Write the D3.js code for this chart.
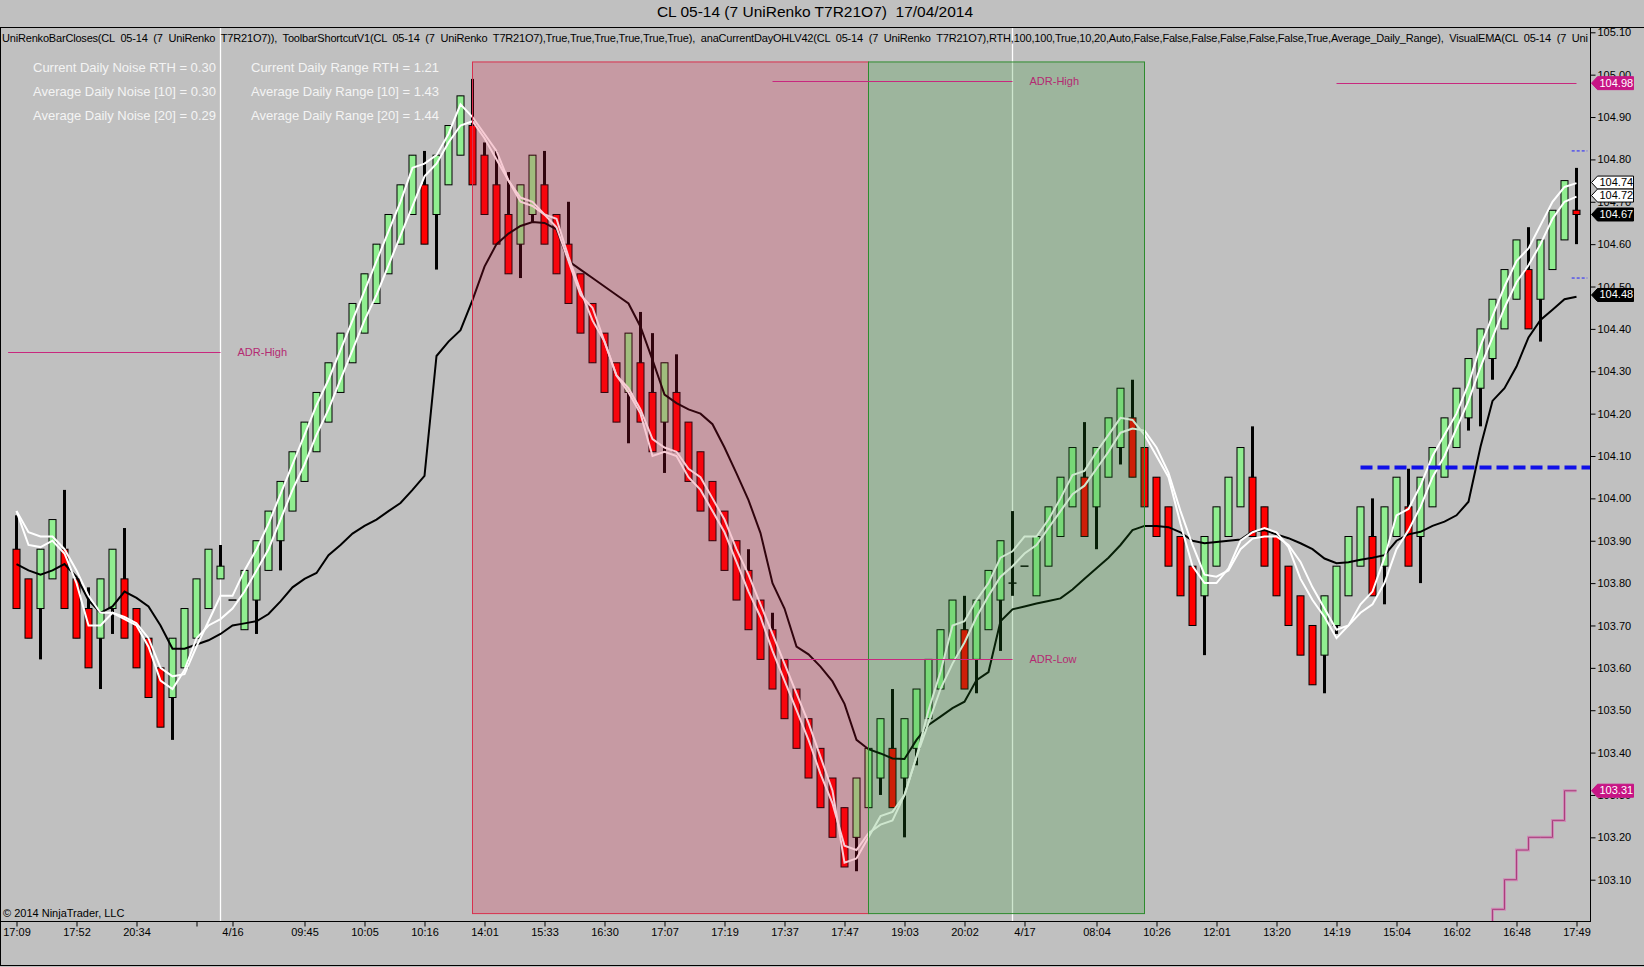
<!DOCTYPE html>
<html>
<head>
<meta charset="utf-8">
<script src="https://cdn.jsdelivr.net/npm/d3@7"></script>
<style>
  body { margin: 0; background: #c0c0c0; }
  svg { display: block; font-family: "Liberation Sans", Arial, sans-serif; }
</style>
</head>
<body>
<svg id="chart" width="1644" height="967"></svg>
<script>
// CL 05-14 UniRenko T7R21O7 - bar data, one value per bar
const opens = [
  103.88,103.81,103.74,103.81,103.88,103.81,103.74,103.67,103.74,103.81,
  103.74,103.67,103.60,103.53,103.60,103.67,103.74,103.81,103.76,103.69,
  103.76,103.83,103.90,103.97,104.04,104.11,104.18,104.25,104.32,104.39,
  104.46,104.53,104.60,104.67,104.74,104.67,104.74,104.81,104.88,104.81,
  104.74,104.67,104.60,104.67,104.74,104.67,104.60,104.53,104.46,104.39,
  104.32,104.25,104.32,104.25,104.18,104.25,104.18,104.11,104.04,103.97,
  103.90,103.83,103.76,103.69,103.62,103.55,103.48,103.41,103.34,103.27,
  103.20,103.27,103.34,103.41,103.34,103.41,103.48,103.55,103.62,103.69,
  103.62,103.69,103.76,103.80,103.84,103.77,103.84,103.91,103.98,104.05,
  103.98,104.05,104.12,104.19,104.12,104.05,103.98,103.91,103.84,103.77,
  103.84,103.91,103.98,104.05,103.98,103.91,103.84,103.77,103.70,103.63,
  103.70,103.77,103.84,103.91,103.84,103.91,103.98,103.91,103.98,104.05,
  104.12,104.19,104.26,104.33,104.40,104.47,104.54,104.47,104.54,104.61,
  104.68
];
const closes = [
  103.74,103.67,103.88,103.95,103.74,103.67,103.60,103.81,103.88,103.67,
  103.60,103.53,103.46,103.67,103.74,103.81,103.88,103.84,103.76,103.83,
  103.90,103.97,104.04,104.11,104.18,104.25,104.32,104.39,104.46,104.53,
  104.60,104.67,104.74,104.81,104.60,104.81,104.88,104.95,104.74,104.67,
  104.60,104.53,104.74,104.81,104.60,104.53,104.46,104.39,104.32,104.25,
  104.18,104.39,104.18,104.11,104.32,104.11,104.04,103.97,103.90,103.83,
  103.76,103.69,103.62,103.55,103.48,103.41,103.34,103.27,103.20,103.13,
  103.34,103.41,103.48,103.27,103.48,103.55,103.62,103.69,103.76,103.55,
  103.76,103.83,103.90,103.80,103.84,103.91,103.98,104.05,104.12,103.91,
  104.12,104.19,104.26,104.05,103.98,103.91,103.84,103.77,103.70,103.91,
  103.98,104.05,104.12,103.91,103.84,103.77,103.70,103.63,103.56,103.77,
  103.84,103.91,103.98,103.77,103.98,104.05,103.84,104.05,104.12,104.19,
  104.26,104.33,104.40,104.47,104.54,104.61,104.40,104.61,104.68,104.75,
  104.67
];
const highs = [
  103.96,103.81,103.88,103.95,104.02,103.81,103.79,103.81,103.88,103.93,
  103.74,103.67,103.60,103.67,103.74,103.81,103.88,103.89,103.76,103.83,
  103.90,103.97,104.04,104.11,104.18,104.25,104.32,104.39,104.46,104.53,
  104.60,104.67,104.74,104.81,104.82,104.81,104.88,104.95,104.99,104.84,
  104.82,104.77,104.74,104.81,104.82,104.67,104.70,104.53,104.46,104.39,
  104.32,104.39,104.44,104.39,104.32,104.34,104.18,104.11,104.04,103.97,
  103.90,103.88,103.76,103.73,103.62,103.55,103.48,103.41,103.34,103.27,
  103.34,103.41,103.48,103.55,103.48,103.55,103.62,103.69,103.76,103.77,
  103.76,103.83,103.90,103.97,103.84,103.91,103.98,104.05,104.12,104.18,
  104.12,104.19,104.26,104.28,104.12,104.05,103.98,103.91,103.84,103.91,
  103.98,104.05,104.12,104.17,103.98,103.91,103.84,103.77,103.70,103.77,
  103.84,103.91,103.98,104.00,103.98,104.05,104.07,104.05,104.12,104.19,
  104.26,104.33,104.40,104.47,104.54,104.61,104.64,104.61,104.68,104.75,
  104.78
];
const lows = [
  103.74,103.67,103.62,103.81,103.74,103.67,103.60,103.55,103.68,103.67,
  103.60,103.53,103.46,103.43,103.60,103.67,103.74,103.81,103.76,103.69,
  103.68,103.83,103.83,103.97,104.04,104.11,104.18,104.25,104.32,104.39,
  104.46,104.53,104.60,104.67,104.60,104.54,104.74,104.81,104.74,104.67,
  104.60,104.53,104.52,104.65,104.60,104.53,104.46,104.39,104.32,104.25,
  104.18,104.13,104.18,104.11,104.06,104.11,104.04,103.97,103.90,103.83,
  103.76,103.69,103.62,103.55,103.48,103.41,103.34,103.27,103.20,103.13,
  103.12,103.27,103.30,103.27,103.20,103.37,103.48,103.55,103.62,103.55,
  103.54,103.69,103.64,103.77,103.84,103.77,103.84,103.91,103.98,103.91,
  103.88,104.05,104.08,104.05,103.98,103.91,103.84,103.77,103.70,103.63,
  103.84,103.91,103.98,103.91,103.84,103.77,103.70,103.63,103.56,103.54,
  103.68,103.77,103.84,103.77,103.75,103.91,103.84,103.80,103.98,104.05,
  104.12,104.16,104.17,104.28,104.40,104.47,104.40,104.37,104.54,104.61,
  104.60
];

// indicator lines (two white EMAs, one black), read per bar
const emaFast = [
  103.97,103.92,103.91,103.91,103.88,103.83,103.77,103.73,103.73,103.72,
  103.705,103.67,103.60,103.58,103.585,103.65,103.71,103.77,103.77,103.83,
  103.88,103.94,104.01,104.08,104.15,104.22,104.28,104.35,104.42,104.49,
  104.56,104.63,104.70,104.78,104.79,104.81,104.86,104.93,104.90,104.86,
  104.82,104.75,104.70,104.69,104.67,104.66,104.57,104.49,104.42,104.37,
  104.29,104.26,104.21,104.14,104.12,104.11,104.07,104.05,104.00,103.95,
  103.88,103.82,103.75,103.68,103.61,103.54,103.47,103.39,103.31,103.14,
  103.15,103.20,103.25,103.26,103.30,103.39,103.50,103.59,103.70,103.71,
  103.76,103.80,103.86,103.875,103.91,103.91,103.95,104.00,104.055,104.065,
  104.11,104.15,104.19,104.185,104.15,104.10,104.05,103.94,103.84,103.80,
  103.80,103.835,103.90,103.92,103.93,103.92,103.885,103.81,103.76,103.72,
  103.67,103.70,103.75,103.78,103.86,103.96,103.975,104.03,104.10,104.15,
  104.20,104.27,104.36,104.43,104.50,104.56,104.59,104.645,104.70,104.735,
  104.744
];
const emaMid = [
  103.97,103.89,103.885,103.90,103.87,103.80,103.70,103.70,103.73,103.715,
  103.70,103.65,103.57,103.55,103.595,103.67,103.70,103.715,103.74,103.78,
  103.83,103.88,103.95,104.02,104.08,104.15,104.21,104.28,104.35,104.42,
  104.48,104.55,104.62,104.69,104.76,104.79,104.84,104.88,104.89,104.85,
  104.80,104.75,104.71,104.70,104.67,104.64,104.56,104.48,104.45,104.37,
  104.29,104.25,104.20,104.10,104.11,104.10,104.05,104.02,103.97,103.92,
  103.85,103.78,103.72,103.64,103.57,103.50,103.43,103.35,103.28,103.18,
  103.17,103.21,103.23,103.24,103.30,103.39,103.47,103.55,103.61,103.66,
  103.72,103.77,103.815,103.84,103.87,103.89,103.93,103.97,104.01,104.03,
  104.07,104.11,104.155,104.165,104.16,104.12,104.06,103.97,103.89,103.82,
  103.815,103.83,103.88,103.905,103.91,103.91,103.89,103.85,103.79,103.74,
  103.69,103.70,103.73,103.75,103.80,103.88,103.925,103.98,104.05,104.10,
  104.165,104.23,104.31,104.38,104.45,104.51,104.55,104.60,104.66,104.70,
  104.712
];
const emaSlow = [
  103.845,103.83,103.82,103.83,103.845,103.815,103.76,103.73,103.745,103.78,
  103.765,103.745,103.70,103.645,103.645,103.655,103.665,103.68,103.70,103.705,
  103.71,103.727,103.757,103.79,103.81,103.824,103.866,103.89,103.917,103.935,
  103.95,103.97,103.989,104.02,104.053,104.336,104.37,104.397,104.468,104.547,
  104.60,104.625,104.643,104.652,104.65,104.635,104.56,104.54,104.52,104.50,
  104.48,104.46,104.405,104.327,104.245,104.225,104.21,104.20,104.175,104.12,
  104.059,103.996,103.918,103.80,103.74,103.65,103.632,103.603,103.568,103.515,
  103.43,103.408,103.398,103.386,103.385,103.43,103.465,103.485,103.505,103.52,
  103.571,103.59,103.71,103.738,103.745,103.752,103.758,103.764,103.785,103.81,
  103.835,103.86,103.89,103.925,103.935,103.935,103.932,103.92,103.90,103.894,
  103.897,103.90,103.903,103.922,103.925,103.915,103.906,103.894,103.88,103.858,
  103.847,103.849,103.855,103.86,103.866,103.90,103.915,103.921,103.935,103.945,
  103.96,103.992,104.122,104.23,104.26,104.311,104.38,104.421,104.445,104.47,
  104.476
];

// stepped indicator at the bottom right
const stairIdx  = [122, 123, 124, 125, 126, 127, 128, 129, 130];
const stairVals = [102.90, 103.03, 103.10, 103.17, 103.20, 103.20, 103.24, 103.31, 103.31];

// drawings
const sessionBreaks = [17, 83];
const zoneFrom = [38, 71];
const zoneTo   = [71, 94];
const zoneHigh = [105.03, 105.03];
const zoneLow  = [103.02, 103.02];
const adrLabels = ["ADR-High", "ADR-High", "ADR-Low", ""];
const adrPrice  = [104.346, 104.985, 103.62, 104.98];
const adrFrom   = [-0.7, 63, 64.3, 110];
const adrTo     = [17, 83, 83, 130];
const pivotPrice = 104.073, pivotFrom = 112;
const smallDashPrice = [104.82, 104.52];

// axes
const xTickIdx = [0, 5, 10, 15, 18, 24, 29, 34, 39, 44, 49, 54, 59, 64, 69, 74, 79, 84, 90, 95, 100, 105, 110, 115, 120, 125, 130];
const xTickLabels = ["17:09","17:52","20:34","","4/16","09:45","10:05","10:16","14:01","15:33","16:30","17:07","17:19","17:37",
  "17:47","19:03","20:02","4/17","08:04","10:26","12:01","13:20","14:19","15:04","16:02","16:48","17:49"];
const yTicks = [103.10,103.20,103.30,103.40,103.50,103.60,103.70,103.80,103.90,104.00,104.10,
  104.20,104.30,104.40,104.50,104.60,104.70,104.80,104.90,105.00,105.10];

// right-axis price markers
const markerVals = [104.98, 104.74, 104.72, 104.67, 104.48, 103.31];
const markerKind = ["magenta", "white", "white", "black", "black", "magenta"];

// texts
const titleText = "CL 05-14 (7 UniRenko T7R21O7)  17/04/2014";
const headerText = "UniRenkoBarCloses(CL  05-14  (7  UniRenko  T7R21O7)),  ToolbarShortcutV1(CL  05-14  (7  UniRenko  T7R21O7),True,True,True,True,True,True),  anaCurrentDayOHLV42(CL  05-14  (7  UniRenko  T7R21O7),RTH,100,100,True,10,20,Auto,False,False,False,False,False,False,True,Average_Daily_Range),  VisualEMA(CL  05-14  (7  Uni";
const infoLeft  = ["Current Daily Noise RTH = 0.30", "Average Daily Noise [10] = 0.30", "Average Daily Noise [20] = 0.29"];
const infoRight = ["Current Daily Range RTH = 1.21", "Average Daily Range [10] = 1.43", "Average Daily Range [20] = 1.44"];

(function() {
  const svg = d3.select("#chart");
  const W = 1644, H = 967;
  const plot = { top: 27, right: 1590, bottom: 921 };
  const font = '"Liberation Sans", Arial, sans-serif';

  const x = d3.scaleLinear().domain([0, 130]).range([16.5, 1576.5]);
  const y = d3.scaleLinear().domain([103.10, 105.10]).range([879.7, 32.3]);

  svg.append("rect").attr("width", W).attr("height", H).attr("fill", "#c0c0c0");

  svg.append("defs").append("clipPath").attr("id", "plotclip")
    .append("rect").attr("x", 0).attr("y", plot.top)
    .attr("width", plot.right).attr("height", plot.bottom - plot.top);

  const g = svg.append("g").attr("clip-path", "url(#plotclip)");

  // session break lines
  g.selectAll("line.session").data(sessionBreaks).join("line")
    .attr("x1", d => x(d)).attr("x2", d => x(d))
    .attr("y1", plot.top).attr("y2", plot.bottom)
    .attr("stroke", "#ffffff").attr("stroke-width", 1.3);

  const bars = opens.map((o, i) => ({ i, o, c: closes[i], h: highs[i], l: lows[i] }));

  // wicks
  g.selectAll("line.wick").data(bars.filter(d => d.h > d.l)).join("line")
    .attr("x1", d => x(d.i)).attr("x2", d => x(d.i))
    .attr("y1", d => y(d.h)).attr("y2", d => y(d.l))
    .attr("stroke", "#000").attr("stroke-width", 3);

  // bodies
  const body = bars.filter(d => d.o !== d.c);
  g.selectAll("rect.body").data(body).join("rect")
    .attr("x", d => x(d.i) - 3.5).attr("width", 7)
    .attr("y", d => y(Math.max(d.o, d.c)))
    .attr("height", d => Math.abs(y(d.o) - y(d.c)))
    .attr("fill", d => d.c > d.o ? "#90ee90" : "#ff0000")
    .attr("stroke", "#000").attr("stroke-width", 1);

  // doji bars drawn as a flat tick
  g.selectAll("line.doji").data(bars.filter(d => d.o === d.c)).join("line")
    .attr("x1", d => x(d.i) - 4).attr("x2", d => x(d.i) + 4)
    .attr("y1", d => y(d.o)).attr("y2", d => y(d.o))
    .attr("stroke", "#000").attr("stroke-width", 1.5);

  // indicator lines
  const line = d3.line().x((d, i) => x(i)).y(d => y(d));
  g.append("path").datum(emaSlow).attr("d", line)
    .attr("fill", "none").attr("stroke", "#000").attr("stroke-width", 2);
  [emaMid, emaFast].forEach(s => {
    g.append("path").datum(s).attr("d", line)
      .attr("fill", "none").attr("stroke", "#ffffff").attr("stroke-width", 2);
  });

  // shaded zones (drawn over the bars, like the original)
  const zoneFill = ["rgba(220,20,60,0.22)", "rgba(34,139,34,0.22)"];
  const zoneStroke = ["#d8304e", "#2e8b2e"];
  zoneFrom.forEach((f, k) => {
    g.append("rect")
      .attr("x", x(f)).attr("width", x(zoneTo[k]) - x(f))
      .attr("y", y(zoneHigh[k])).attr("height", y(zoneLow[k]) - y(zoneHigh[k]))
      .attr("fill", zoneFill[k]).attr("stroke", zoneStroke[k]).attr("stroke-width", 1);
  });

  // ADR lines + labels
  adrPrice.forEach((p, k) => {
    g.append("line")
      .attr("x1", x(adrFrom[k])).attr("x2", x(adrTo[k]))
      .attr("y1", Math.round(y(p)) + 0.5).attr("y2", Math.round(y(p)) + 0.5)
      .attr("stroke", "#c8287e").attr("stroke-width", 1);
    if (adrLabels[k]) {
      g.append("text")
        .attr("x", x(adrTo[k]) + 17).attr("y", y(p) + 1)
        .attr("dominant-baseline", "middle")
        .attr("font-size", 11).attr("fill", "#b42a72")
        .text(adrLabels[k]);
    }
  });

  // blue dashed level
  g.append("line")
    .attr("x1", x(pivotFrom)).attr("x2", plot.right)
    .attr("y1", y(pivotPrice)).attr("y2", y(pivotPrice))
    .attr("stroke", "#1010e8").attr("stroke-width", 4).attr("stroke-dasharray", "12,5");
  g.selectAll("line.sdash").data(smallDashPrice).join("line")
    .attr("x1", x(129.6)).attr("x2", x(130.9))
    .attr("y1", d => y(d)).attr("y2", d => y(d))
    .attr("stroke", "#2020ff").attr("stroke-width", 1).attr("stroke-dasharray", "3,2");

  // stepped line
  const stairLine = d3.line().curve(d3.curveStepAfter)
    .x((d, i) => x(stairIdx[i])).y(d => y(d));
  g.append("path").datum(stairVals).attr("d", stairLine)
    .attr("fill", "none").attr("stroke", "#d08ab6").attr("stroke-width", 3);
  g.append("path").datum(stairVals).attr("d", stairLine)
    .attr("fill", "none").attr("stroke", "#a8407c").attr("stroke-width", 1);

  // header texts
  svg.append("text")
    .attr("x", 815).attr("y", 13).attr("text-anchor", "middle")
    .attr("dominant-baseline", "middle").attr("font-size", 15.5).attr("fill", "#000")
    .style("white-space", "pre").text(titleText);

  g.append("text")
    .attr("x", 2).attr("y", 39.5).attr("dominant-baseline", "middle")
    .attr("font-size", 11).attr("fill", "#000")
    .attr("textLength", 1586).attr("lengthAdjust", "spacing")
    .style("white-space", "pre").text(headerText);

  const info = svg.append("g").attr("font-size", 13).attr("fill", "#f4f4f4");
  infoLeft.forEach((t, k) => info.append("text").attr("x", 33).attr("y", 69 + k * 23.8)
    .attr("dominant-baseline", "middle").text(t));
  infoRight.forEach((t, k) => info.append("text").attr("x", 251).attr("y", 69 + k * 23.8)
    .attr("dominant-baseline", "middle").text(t));

  svg.append("text").attr("x", 3).attr("y", 914).attr("dominant-baseline", "middle")
    .attr("font-size", 11).attr("fill", "#000").text("\u00A9 2014 NinjaTrader, LLC");

  // frame
  svg.append("line").attr("x1", 0).attr("x2", W).attr("y1", plot.top + 0.5).attr("y2", plot.top + 0.5)
    .attr("stroke", "#000");
  svg.append("line").attr("x1", 0.5).attr("x2", 0.5).attr("y1", plot.top).attr("y2", 966)
    .attr("stroke", "#000");
  svg.append("line").attr("x1", 0).attr("x2", W).attr("y1", 965.5).attr("y2", 965.5)
    .attr("stroke", "#000");
  svg.append("line").attr("x1", plot.right + 0.5).attr("x2", plot.right + 0.5)
    .attr("y1", plot.top).attr("y2", plot.bottom + 1).attr("stroke", "#000");
  svg.append("line").attr("x1", 0).attr("x2", plot.right + 1)
    .attr("y1", plot.bottom + 0.5).attr("y2", plot.bottom + 0.5).attr("stroke", "#000");

  // y axis
  const yAxis = svg.append("g").attr("transform", `translate(${plot.right + 0.5},0)`)
    .call(d3.axisRight(y).tickValues(yTicks).tickFormat(d3.format(".2f")).tickSize(5).tickPadding(2));
  yAxis.attr("font-family", font).attr("font-size", 11);
  yAxis.select(".domain").remove();
  yAxis.selectAll("text").attr("fill", "#000");

  // x axis
  const xAxis = svg.append("g").attr("transform", `translate(0,${plot.bottom + 0.5})`)
    .call(d3.axisBottom(x).tickValues(xTickIdx).tickFormat((d, i) => xTickLabels[i]).tickSize(5).tickPadding(2));
  xAxis.attr("font-family", font).attr("font-size", 11);
  xAxis.select(".domain").remove();
  xAxis.selectAll("text").attr("fill", "#000");

  // price markers on the right axis
  const markerColors = {
    magenta: { bg: "#c71585", fg: "#ffffff", line: "#c71585" },
    white:   { bg: "#ffffff", fg: "#000000", line: "#000000" },
    black:   { bg: "#000000", fg: "#ffffff", line: "#000000" }
  };
  const mh = 13;
  const placed = markerVals.map((v, k) => ({ v, k, py: y(v) })).sort((a, b) => a.py - b.py);
  for (let j = 1; j < placed.length; j++) {
    const gap = placed[j].py - placed[j - 1].py;
    if (gap < mh) {
      const push = (mh - gap) / 2;
      placed[j - 1].py -= push;
      placed[j].py += push;
    }
  }
  const mk = svg.append("g");
  placed.forEach(m => {
    const c = markerColors[markerKind[m.k]];
    const cy = m.py, x0 = plot.right + 1.5;
    mk.append("path")
      .attr("d", `M${x0},${cy} L${x0 + 6},${cy - mh / 2} L${x0 + 42},${cy - mh / 2} L${x0 + 42},${cy + mh / 2} L${x0 + 6},${cy + mh / 2} Z`)
      .attr("fill", c.bg).attr("stroke", c.line).attr("stroke-width", 1);
    mk.append("text")
      .attr("x", x0 + 8).attr("y", cy + 0.5).attr("dominant-baseline", "middle")
      .attr("font-size", 11).attr("fill", c.fg).text(d3.format(".2f")(m.v));
  });
})();
</script>
</body>
</html>
